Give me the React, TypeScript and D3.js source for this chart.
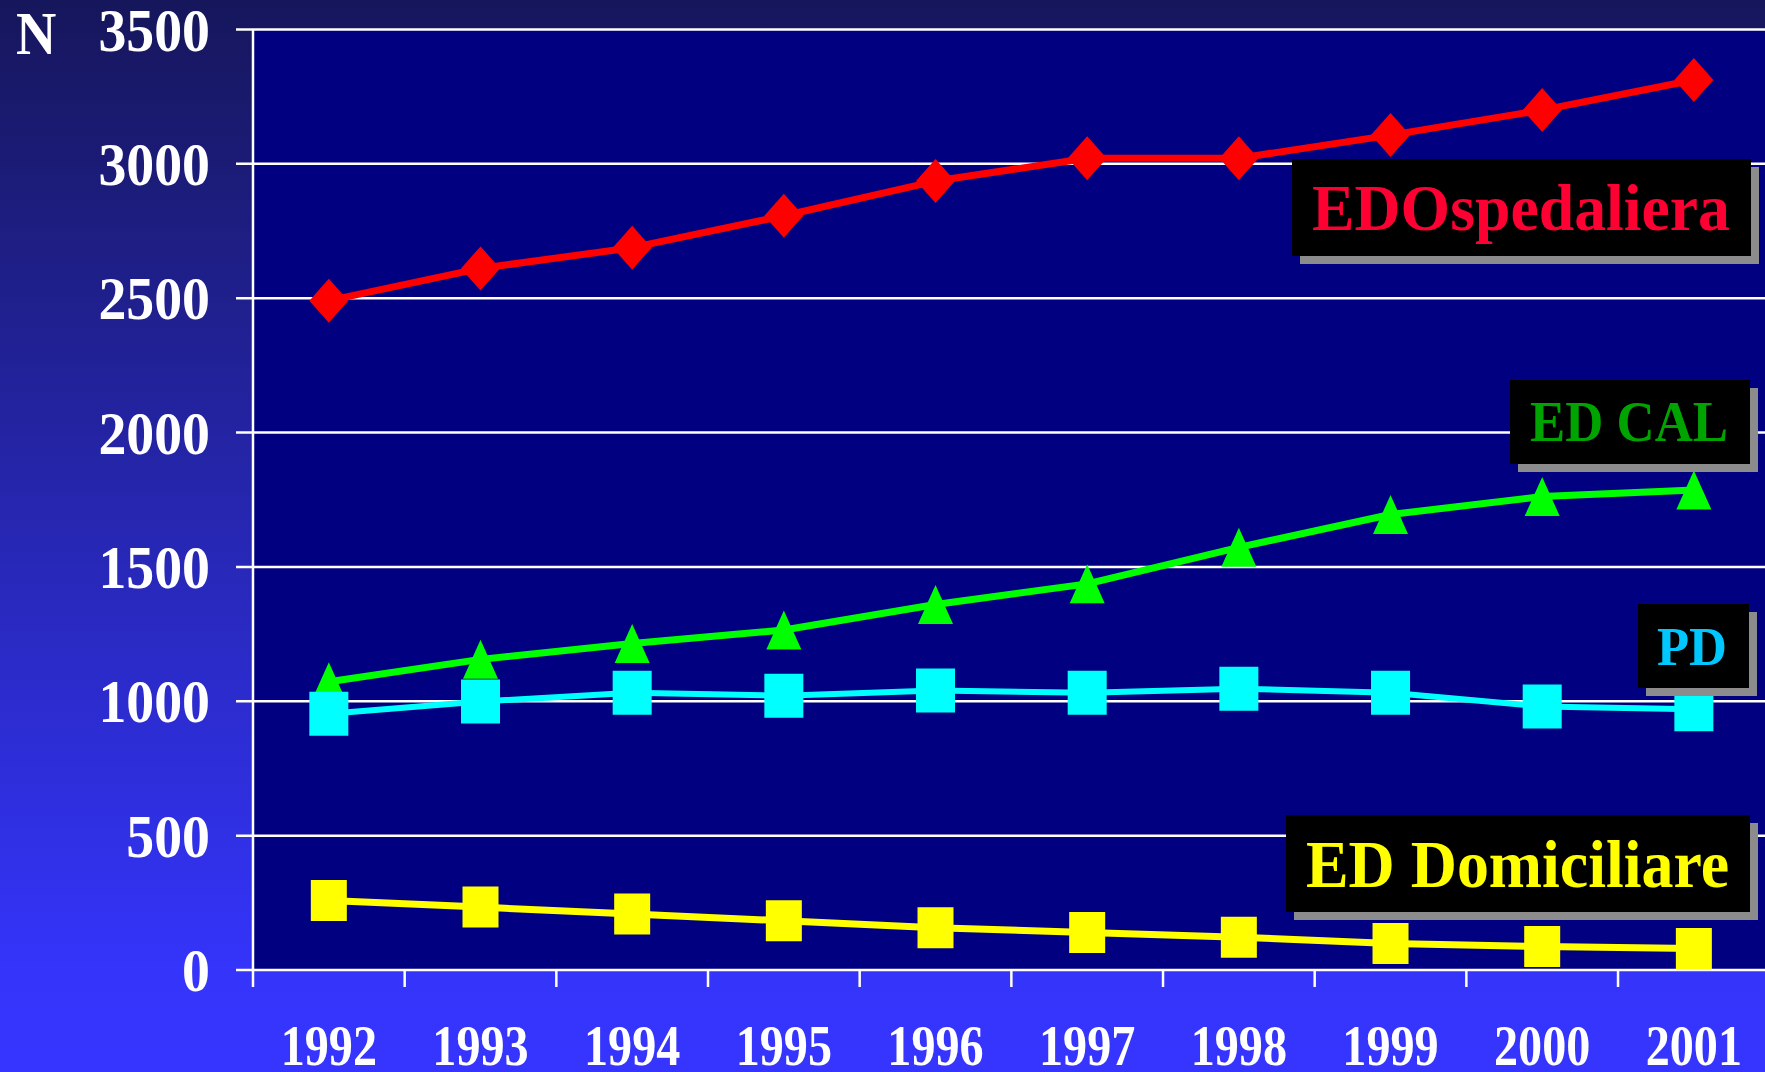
import React from 'react'
import * as d3 from 'd3'

// years on the x axis
const years = ['1992', '1993', '1994', '1995', '1996', '1997', '1998', '1999', '2000', '2001']
const yTicks = [0, 500, 1000, 1500, 2000, 2500, 3000, 3500]

// values
const edOspedaliera = [2491, 2611, 2688, 2807, 2936, 3021, 3021, 3107, 3200, 3312]
const edCal = [1073, 1156, 1215, 1265, 1360, 1437, 1573, 1695, 1762, 1786]
const pd = [954, 999, 1032, 1021, 1040, 1032, 1047, 1032, 981, 970]
const edDomiciliare = [259, 234, 208, 183, 157, 140, 122, 99, 87, 80]

const W = 1765
const H = 1072
const left = 253
const top = 29.5
const bottom = 970
const band = 151.67

const font = "'Liberation Serif', 'Times New Roman', serif"

const marker = (kind: string, w: number, h: number) => {
  if (kind === 'diamond') return `M0,${-h / 2}L${w / 2},0L0,${h / 2}L${-w / 2},0Z`
  if (kind === 'triangle') return `M0,${-h / 2}L${w / 2},${h / 2}L${-w / 2},${h / 2}Z`
  return `M${-w / 2},${-h / 2}H${w / 2}V${h / 2}H${-w / 2}Z`
}

const series = [
  { name: 'EDOspedaliera', values: edOspedaliera, color: '#ff0000', kind: 'diamond', mw: 39, mh: 44, sw: 7 },
  { name: 'ED CAL', values: edCal, color: '#00ff00', kind: 'triangle', mw: 35, mh: 39, sw: 7 },
  { name: 'PD', values: pd, color: '#00ffff', kind: 'square', mw: 39, mh: 44, sw: 6 },
  { name: 'ED Domiciliare', values: edDomiciliare, color: '#ffff00', kind: 'square', mw: 36, mh: 41, sw: 7 },
]

const labels = [
  { text: 'EDOspedaliera', color: '#ff0033', x0: 1292, y0: 159, x1: 1751, y1: 256, tx: 1312, tw: 418, base: 230, fs: 65 },
  { text: 'ED CAL', color: '#00a400', x0: 1510, y0: 380, x1: 1750, y1: 464, tx: 1530, tw: 198, base: 441, fs: 57 },
  { text: 'PD', color: '#00c8ff', x0: 1638, y0: 604, x1: 1749, y1: 688, tx: 1657, tw: 70, base: 665, fs: 54 },
  { text: 'ED Domiciliare', color: '#ffff00', x0: 1286, y0: 815, x1: 1750, y1: 912, tx: 1306, tw: 423, base: 887, fs: 67 },
]

export default function App() {
  const x = d3.scaleBand().domain(years).range([left, left + band * years.length])
  const y = d3.scaleLinear().domain([0, 3500]).range([bottom, top])

  const line = d3.line<number>()
    .x((d, i) => (x(years[i]) as number) + x.bandwidth() / 2)
    .y(d => y(d))

  return (
    <svg width={W} height={H} style={{ position: 'absolute', left: 0, top: 0, display: 'block' }}>
      <defs>
        <linearGradient id="bg" x1="0" y1="0" x2="0" y2="1">
          <stop offset="0" stopColor="#16165c" />
          <stop offset="0.9" stopColor="#3434fa" />
          <stop offset="1" stopColor="#3535ff" />
        </linearGradient>
      </defs>
      <rect x={0} y={0} width={W} height={H} fill="url(#bg)" />
      <rect x={left} y={top} width={W - left} height={bottom - top} fill="#000080" />

      {/* grid + y ticks */}
      {yTicks.map(t => (
        <line key={t} x1={236} x2={W} y1={y(t)} y2={y(t)} stroke="#ffffff" strokeWidth={2.5} />
      ))}
      <line x1={left} x2={left} y1={top} y2={987} stroke="#ffffff" strokeWidth={2.5} />
      {years.map((yr, i) => i > 0 && (
        <line key={yr} x1={x(yr)} x2={x(yr)} y1={bottom} y2={987} stroke="#ffffff" strokeWidth={2.5} />
      ))}

      {yTicks.map(t => (
        <text key={t} transform={`translate(210,${y(t) + 21}) scale(0.9,1)`} textAnchor="end"
          fontFamily={font} fontWeight="bold" fontSize={62} fill="#ffffff">{t}</text>
      ))}
      <text transform="translate(16,54) scale(0.9,1)" fontFamily={font} fontWeight="bold" fontSize={62} fill="#ffffff">N</text>

      {years.map(yr => (
        <text key={yr} transform={`translate(${(x(yr) as number) + x.bandwidth() / 2},1065) scale(0.86,1)`}
          textAnchor="middle" fontFamily={font} fontWeight="bold" fontSize={56} fill="#ffffff">{yr}</text>
      ))}

      {series.map(s => (
        <g key={s.name}>
          <path d={line(s.values) as string} fill="none" stroke={s.color} strokeWidth={s.sw} strokeLinejoin="round" />
          {s.values.map((v, i) => (
            <path key={i} d={marker(s.kind, s.mw, s.mh)} fill={s.color}
              transform={`translate(${(x(years[i]) as number) + x.bandwidth() / 2},${y(v)})`} />
          ))}
        </g>
      ))}

      {labels.map(l => (
        <g key={l.text}>
          <rect x={l.x0 + 8} y={l.y0 + 8} width={l.x1 - l.x0} height={l.y1 - l.y0} fill="#8c8c8c" />
          <rect x={l.x0} y={l.y0} width={l.x1 - l.x0} height={l.y1 - l.y0} fill="#000000" />
          <text x={l.tx} y={l.base} textLength={l.tw} lengthAdjust="spacingAndGlyphs"
            fontFamily={font} fontWeight="bold" fontSize={l.fs} fill={l.color}>{l.text}</text>
        </g>
      ))}
    </svg>
  )
}
